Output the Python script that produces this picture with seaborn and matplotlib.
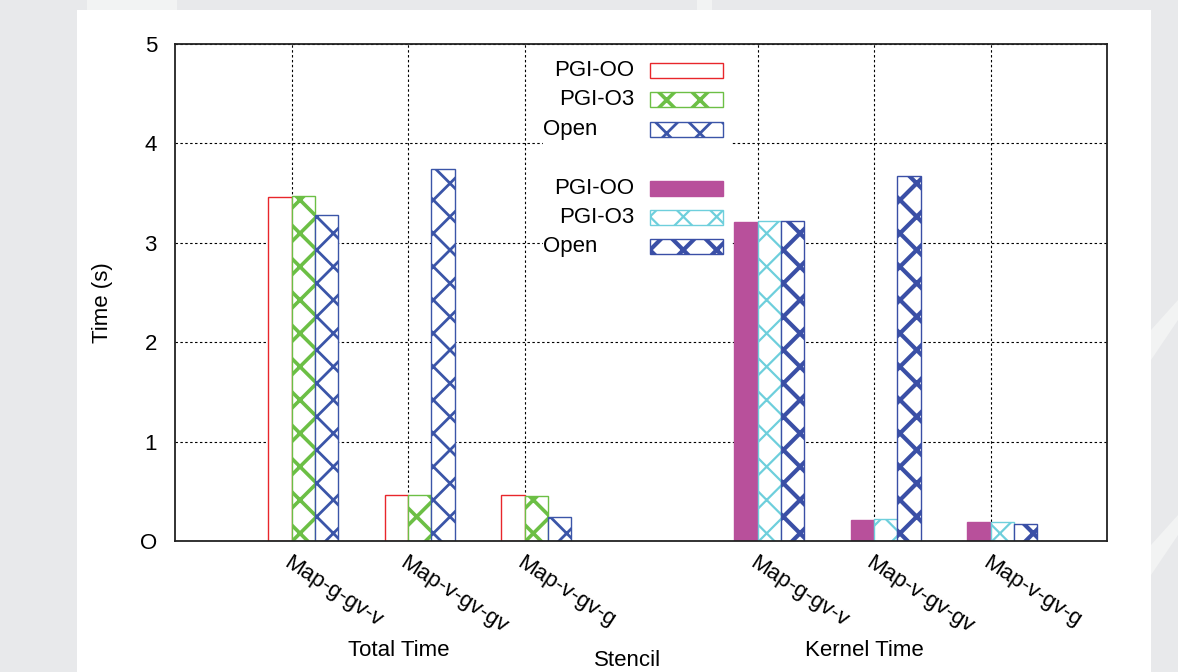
import matplotlib
matplotlib.use("Agg")
import matplotlib.pyplot as plt
from matplotlib.patches import Rectangle, Polygon
import numpy as np
import pandas as pd
import seaborn as sns

# ---------------- data ----------------
stencils = ["Map-g-gv-v", "Map-v-gv-gv", "Map-v-gv-g"]
compilers = ["PGI-OO", "PGI-O3", "Open"]
total_pgi_oo = [3.46, 0.46, 0.46]
total_pgi_o3 = [3.47, 0.46, 0.45]
total_open = [3.28, 3.74, 0.24]
kernel_pgi_oo = [3.21, 0.21, 0.19]
kernel_pgi_o3 = [3.22, 0.22, 0.19]
kernel_open = [3.22, 3.67, 0.17]
group_labels = ["Total Time", "Kernel Time"]
total_slots = [1, 2, 3]
kernel_slots = [5, 6, 7]
ytick_values = [0, 1, 2, 3, 4, 5]
ytick_labels = ["O", "1", "2", "3", "4", "5"]

# ---------------- style ----------------
sns.set_theme(style="white")
plt.rcParams["font.family"] = ["Liberation Sans", "DejaVu Sans"]
plt.rcParams["hatch.linewidth"] = 2.0
for k in ["text.color", "axes.labelcolor", "xtick.color", "ytick.color"]:
    plt.rcParams[k] = "black"

total_colors = {"PGI-OO": "#e8262b", "PGI-O3": "#6cbf45", "Open": "#3b55a8"}
kernel_colors = {"PGI-OO": "#b8509b", "PGI-O3": "#6ecfdc", "Open": "#3a4fa6"}
total_style = {"PGI-OO": dict(fill="white", hatch=None, hlw=1.0),
               "PGI-O3": dict(fill="white", hatch="x", hlw=2.6),
               "Open": dict(fill="white", hatch="x", hlw=2.0)}
kernel_style = {"PGI-OO": dict(fill=None, hatch=None, hlw=1.0),
                "PGI-O3": dict(fill="white", hatch="x", hlw=1.6),
                "Open": dict(fill="white", hatch="x", hlw=3.0)}

W, H = 1178, 672
fig = plt.figure(figsize=(W / 100, H / 100), dpi=100)
fig.patch.set_facecolor("#e8e9eb")
# subtle lighter streaks of the page background
for xy in [[(87, 0), (177, 0), (177, 10), (87, 10)],
           [(697, 0), (712, 0), (712, 10), (697, 10)],
           [(1151, 330), (1178, 300), (1178, 320), (1151, 360)],
           [(1151, 545), (1178, 515), (1178, 535), (1151, 575)]]:
    fig.patches.append(Polygon([(x / W, 1 - y / H) for x, y in xy], closed=True,
                               transform=fig.transFigure, facecolor="#f2f3f3",
                               edgecolor="none", zorder=-2))
fig.patches.append(Rectangle((77 / W, 0), (1151 - 77) / W, (H - 10) / H,
                             transform=fig.transFigure, facecolor="white",
                             edgecolor="none", zorder=-1))

L, R, T, B = 175, 1107, 44, 541
ax = fig.add_axes([L / W, 1 - B / H, (R - L) / W, (B - T) / H])
ax.set_facecolor("white")

# ---------------- bars ----------------
df_total = pd.DataFrame({
    "slot": (np.array(total_slots, float) + 0.1).tolist() * 3,
    "compiler": sum([[c] * 3 for c in compilers], []),
    "time": total_pgi_oo + total_pgi_o3 + total_open,
})
df_kernel = pd.DataFrame({
    "slot": (np.array(kernel_slots, float) + 0.1).tolist() * 3,
    "compiler": sum([[c] * 3 for c in compilers], []),
    "time": kernel_pgi_oo + kernel_pgi_o3 + kernel_open,
})

sns.barplot(data=df_total, x="slot", y="time", hue="compiler", hue_order=compilers,
            palette=total_colors, native_scale=True, width=0.6, errorbar=None,
            legend=False, ax=ax)
sns.barplot(data=df_kernel, x="slot", y="time", hue="compiler", hue_order=compilers,
            palette=kernel_colors, native_scale=True, width=0.6, errorbar=None,
            legend=False, ax=ax)


def style_patch(p, color, st):
    p.set_edgecolor(color)
    p.set_facecolor(color if st["fill"] is None else st["fill"])
    p.set_linewidth(1.0)
    if st["hatch"]:
        p.set_hatch(st["hatch"])
        if hasattr(p, "set_hatch_linewidth"):
            p.set_hatch_linewidth(st["hlw"])
    p.set_zorder(2)


for i, comp in enumerate(compilers):
    for p in ax.containers[i]:
        style_patch(p, total_colors[comp], total_style[comp])
    for p in ax.containers[3 + i]:
        style_patch(p, kernel_colors[comp], kernel_style[comp])

# ---------------- axes ----------------
ax.set_xlim(0, 8)
ax.set_ylim(0, 5)
ax.set_xticks(total_slots + kernel_slots)
ax.set_xticklabels(stencils + stencils, rotation=-33, ha="left", va="top",
                   rotation_mode="anchor", fontsize=16)
ax.set_yticks(ytick_values)
ax.set_yticklabels(ytick_labels, fontsize=16)
ax.tick_params(axis="both", length=0, colors="black")
ax.tick_params(axis="x", pad=8)
ax.tick_params(axis="y", pad=13)
ax.set_axisbelow(True)
ax.grid(True, color="black", linestyle=(0, (2.2, 2.2)), linewidth=0.8)
for s in ax.spines.values():
    s.set_color("#222222")
    s.set_linewidth(1.3)
ax.set_xlabel("")
ax.set_ylabel("Time (s)", fontsize=16)
ax.yaxis.set_label_coords((113 - L) / (R - L), (B - 303) / (B - T))

# group labels and x label
for lab, xc in zip(group_labels, [1.92, 5.92]):
    ax.text(xc, (B - 650) / (B - T), lab, transform=ax.get_xaxis_transform(),
            ha="center", va="center", fontsize=16)
fig.text(628 / W, 1 - 666 / H, "Stencil", ha="center", va="baseline", fontsize=16)

# ---------------- legend ----------------
def axp(px, py):
    return ((px - L) / (R - L), (B - py) / (B - T))

x0, y0 = axp(543, 258)
x1, y1 = axp(731, 55)
ax.add_patch(Rectangle((x0, y0), x1 - x0, y1 - y0, transform=ax.transAxes,
                       facecolor="white", edgecolor="none", zorder=1.5))
rows = [(total_colors, total_style, [70.5, 99.5, 129.5]),
        (kernel_colors, kernel_style, [188.5, 217.5, 246.5])]
for colors, styles, ys in rows:
    for comp, yc in zip(compilers, ys):
        sx0, sy0 = axp(650, yc + 7.5)
        sx1, sy1 = axp(723, yc - 7.5)
        r = Rectangle((sx0, sy0), sx1 - sx0, sy1 - sy0, transform=ax.transAxes,
                      zorder=4)
        ax.add_patch(r)
        style_patch(r, colors[comp], styles[comp])
        r.set_zorder(4)
        if comp == "Open":
            tx, ty = axp(570, yc)
            ax.text(tx, ty, comp, transform=ax.transAxes, ha="center",
                    va="center", fontsize=16, zorder=5)
        else:
            tx, ty = axp(634, yc)
            ax.text(tx, ty, comp, transform=ax.transAxes, ha="right",
                    va="center", fontsize=16, zorder=5)

fig.savefig("out.png", dpi=100, facecolor=fig.get_facecolor())
